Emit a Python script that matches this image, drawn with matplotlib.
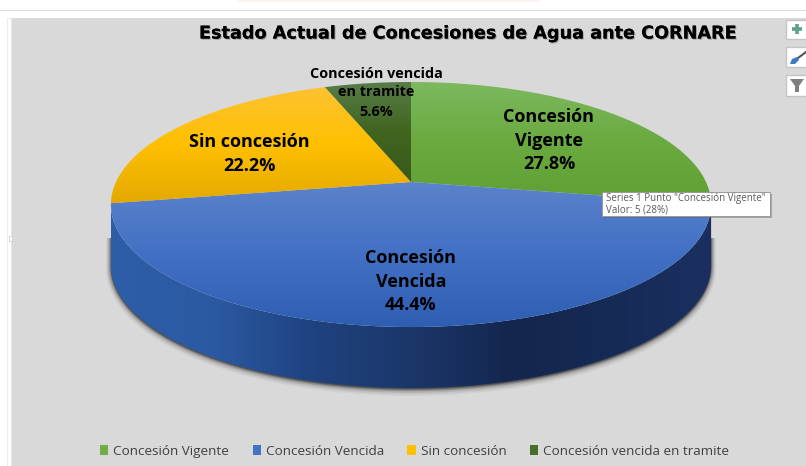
import numpy as np
import matplotlib
matplotlib.use("Agg")
import matplotlib.pyplot as plt
from matplotlib.colors import LinearSegmentedColormap
from matplotlib.patches import Polygon, Rectangle, Patch, PathPatch
from matplotlib.path import Path
import matplotlib.patheffects as pe

categories = ["Concesión Vigente", "Concesión Vencida", "Sin concesión", "Concesión vencida en tramite"]
values = [5, 8, 4, 1]
base_colors = ["#70ad47", "#4472c4", "#ffc000", "#466f2c"]
top_stops = [["#7db95f", "#6aaa3f", "#5fa034"], ["#5c83cc", "#4270c4", "#2e5eb2"],
             ["#fdc233", "#ffc000", "#e3a900"], ["#587d49", "#41651f", "#38591c"]]
title = "Estado Actual de Concesiones de Agua ante CORNARE"
tooltip_lines = ['Series 1 Punto "Concesión Vigente"', "Valor: 5 (28%)"]

W, H = 806, 466
FONT = "Open Sans"
fig = plt.figure(figsize=(W/100, H/100), dpi=100, facecolor="white")
ax = fig.add_axes([0, 0, 1, 1])
ax.set_xlim(0, W); ax.set_ylim(H, 0); ax.axis("off")

# page chrome
ax.add_patch(Rectangle((237, 0), 303, 2, fc="#faf3f0", ec="none"))
ax.add_patch(Rectangle((0, 9.5), W, 1.2, fc="#dcdcdc", ec="none"))
ax.add_patch(Rectangle((11, 18), W-11, H-18, fc="#d9d9d9", ec="none", zorder=0))
ax.add_patch(Rectangle((7, 18), 4, H-18, fc="white", ec="#e4e4e4", lw=.5, zorder=0))
ax.add_patch(Rectangle((8.5, 236), 3, 5, fc="white", ec="#c8c8c8", lw=.5, zorder=1))

# projective view of the tilted pie
CX, CY, R, A, K, DEPTH = 411, 182, 295, 118.4, 0.1837, 61
def rim(deg):
    t = np.radians(deg)
    u, v = np.sin(t), np.cos(t)
    return np.c_[CX + R*u/(1+K*v), CY - A*v/(1+K*v)]

def grad_image(path, stops, horizontal=False, extent=None, z=2):
    cmap = LinearSegmentedColormap.from_list("g", stops)
    g = np.linspace(0, 1, 256)
    g = g[None, :] if horizontal else g[:, None]
    im = ax.imshow(g, cmap=cmap, extent=extent, aspect="auto", zorder=z, interpolation="bilinear")
    clip = PathPatch(path, transform=ax.transData, fc="none", ec="none")
    ax.add_patch(clip)
    im.set_clip_path(clip)

fracs = np.array(values) / sum(values)
edges = np.r_[0, np.cumsum(fracs)] * 360

# side wall (front part of the rim, extruded)
tang = np.degrees(np.arccos(-K))
front = rim(np.linspace(tang, 360-tang, 240))
side_pts = np.r_[front, (front + [0, DEPTH])[::-1]]

# soft shadow, kept to the lower part of the wall
for off, alpha in [(5, .05), (4, .08), (3, .12), (2, .18), (1, .28)]:
    shadow = np.r_[front + [0, 34], (front + [0, DEPTH + off*.6])[::-1]]
    ax.add_patch(Polygon(shadow, fc="#2b2b2b", ec="#2b2b2b", lw=off*1.4, alpha=alpha, zorder=1.5))

grad_image(Path(side_pts, closed=False), ["#2f5ea9", "#2b5aa3", "#1f4280", "#1b3769", "#14264f", "#152a55", "#1b3060"],
           horizontal=True, extent=[111, 712, 400, 150], z=2)

# top face
for i in range(len(values)):
    pts = np.r_[[[CX, CY]], rim(np.linspace(edges[i], edges[i+1], 160))]
    ymin, ymax = pts[:, 1].min(), pts[:, 1].max()
    grad_image(Path(np.r_[pts, pts[:1]]), top_stops[i], extent=[100, 720, ymax, ymin], z=3)

ax.set_xlim(0, W); ax.set_ylim(H, 0)

# data labels
def lab(x, ys, lines, size):
    for y, s in zip(ys, lines):
        ax.text(x, y, s, ha="center", va="center", fontsize=size, fontweight="bold", color="black",
                family=FONT, zorder=6)
pct = [f"{f*100:.1f}%" for f in fracs]
lab(549, [117, 141, 164], ["Concesión", "Vigente", pct[0]], 13)
lab(411, [258, 282, 305], ["Concesión", "Vencida", pct[1]], 13)
lab(249, [142, 166], ["Sin concesión", pct[2]], 13)
lab(376, [74, 92, 112], ["Concesión vencida", "en tramite", pct[3]], 10.4)

# title
t = ax.text(468, 33.5, title, ha="center", va="center", fontsize=12.7, fontweight="bold", color="black",
            family="DejaVu Sans", zorder=6)
t.set_path_effects([pe.withSimplePatchShadow(offset=(.8, -.8), shadow_rgbFace="#777777", alpha=.6), pe.Normal()])

# legend
handles = [Patch(fc=c, ec="none", label=l) for c, l in zip(base_colors, categories)]
ax.legend(handles=handles, loc="center", bbox_to_anchor=(414.5/W, 1-451.5/H), ncol=4, frameon=False,
          prop={"family": FONT, "size": 9.7}, labelcolor="#404040", handlelength=.62, handleheight=.72,
          handletextpad=.35, columnspacing=1.75, borderpad=0)

# tooltip
ax.add_patch(Rectangle((604, 194), 168, 24, fc="#666666", ec="none", alpha=.45, zorder=7))
ax.add_patch(Rectangle((602, 191.5), 168, 24.5, fc="white", ec="#9a9a9a", lw=.7, zorder=8))
for y, s in zip([198.5, 209.5], tooltip_lines):
    ax.text(606, y, s, ha="left", va="center", fontsize=7, color="#5a5a5a", family=FONT, zorder=9)

# chart side buttons
for y0, y1 in [(19.5, 39), (47, 67), (75, 96)]:
    ax.add_patch(Rectangle((786, y0), 22, y1-y0, fc="white", ec="#c4c4c4", lw=1, zorder=5))
ax.plot([797, 797], [24, 34], color="#5fa08a", lw=2.6, zorder=6, solid_capstyle="butt")
ax.plot([792, 802], [29, 29], color="#5fa08a", lw=2.6, zorder=6, solid_capstyle="butt")
ax.plot([798, 806], [58, 52], color="#555555", lw=1.5, zorder=6)
ax.add_patch(Polygon([[790, 64], [792, 59], [797, 57], [799, 60], [795, 64]], fc="#3f78c8", ec="none", zorder=6))
ax.add_patch(Polygon([[790, 79], [804, 79], [799, 86], [799, 92], [795, 92], [795, 86]], fc="#7f7f7f", ec="none", zorder=6))

fig.savefig("out.png", dpi=100)
